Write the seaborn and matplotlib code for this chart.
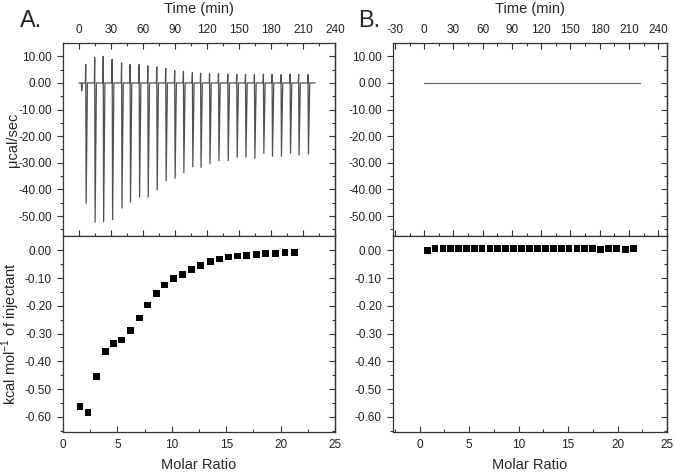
import numpy as np
import pandas as pd
import matplotlib.pyplot as plt
import seaborn as sns
from matplotlib.ticker import MultipleLocator, FormatStrFormatter

# panel A raw thermogram: injection times (min) and peak heights (ucal/sec)
inj_time = [6.3, 14.7, 22.7, 31.1, 39.9, 47.9, 56.4, 64.5, 72.9, 81.3, 89.7, 97.9, 106.3,
            114.0, 122.4, 130.8, 139.5, 147.9, 156.1, 164.5, 172.9, 181.0, 189.4, 197.9, 205.9, 214.7]
inj_up = [7.0, 9.5, 10.0, 8.9, 7.5, 6.9, 6.9, 6.4, 6.0, 5.4, 4.6, 4.4, 3.9,
          3.7, 3.5, 3.5, 3.3, 3.2, 3.2, 3.1, 3.3, 3.2, 3.1, 3.3, 3.2, 3.1]
inj_down = [-45.2, -52.3, -52.2, -51.4, -47.0, -44.9, -42.9, -42.9, -40.2, -36.8, -35.8, -33.7, -31.5,
            -31.7, -30.4, -29.2, -29.2, -27.9, -27.9, -28.2, -26.4, -27.5, -27.5, -26.4, -27.1, -26.7]
pre_time, pre_dip = 2.5, -3.0
run_start, run_end = 0.0, 221.5

# panel A integrated heats
a_ratio = [1.56, 2.30, 3.07, 3.87, 4.63, 5.40, 6.20, 7.00, 7.79, 8.56, 9.36, 10.15, 10.98,
           11.81, 12.67, 13.53, 14.36, 15.21, 16.04, 16.90, 17.79, 18.62, 19.51, 20.40, 21.26]
a_heat = [-0.562, -0.586, -0.454, -0.366, -0.336, -0.323, -0.288, -0.244, -0.197, -0.156,
          -0.125, -0.102, -0.086, -0.070, -0.053, -0.041, -0.031, -0.024, -0.020, -0.017,
          -0.014, -0.012, -0.012, -0.008, -0.008]

# panel B: flat thermogram and near-zero heats
b_time = [0.0, 221.5]
b_power = [0.0, 0.0]
b_ratio = [0.78, 1.55, 2.35, 3.10, 3.90, 4.70, 5.50, 6.30, 7.10, 7.90, 8.70, 9.50, 10.30, 11.10,
           11.90, 12.70, 13.50, 14.30, 15.10, 15.90, 16.70, 17.50, 18.30, 19.10, 19.90, 20.80, 21.60]
b_heat = [0.000, 0.006, 0.006, 0.006, 0.006, 0.006, 0.006, 0.006, 0.006, 0.006, 0.006, 0.006, 0.006,
          0.006, 0.006, 0.006, 0.006, 0.006, 0.006, 0.006, 0.006, 0.006, 0.003, 0.006, 0.006, 0.003, 0.006]

sns.set_style("ticks")
plt.rcParams['font.family'] = ['Liberation Sans', 'DejaVu Sans']
plt.rcParams['mathtext.fontset'] = 'custom'
plt.rcParams['mathtext.rm'] = 'Liberation Sans'
plt.rcParams['axes.unicode_minus'] = False

# build the trace path from the peaks
tt, pp = [run_start, pre_time - 0.3, pre_time, pre_time + 0.6], [0, 0, pre_dip, 0]
for t, u, d in zip(inj_time, inj_up, inj_down):
    tt += [t - 0.3, t, t + 0.4, t + 1.6]
    pp += [0, u, d, 0]
tt.append(run_end)
pp.append(0)
trace_a = pd.DataFrame({"time": tt, "power": pp})
trace_b = pd.DataFrame({"time": b_time, "power": b_power})
heat_a = pd.DataFrame({"ratio": a_ratio, "heat": a_heat})
heat_b = pd.DataFrame({"ratio": b_ratio, "heat": b_heat})

fig = plt.figure(figsize=(6.75, 4.74), dpi=100)
W, H = 675, 474


def box(x0, x1, y0, y1):
    return [x0 / W, 1 - y1 / H, (x1 - x0) / W, (y1 - y0) / H]


axA1 = fig.add_axes(box(63, 335, 43, 236))
axA2 = fig.add_axes(box(63, 335, 236, 432))
axB1 = fig.add_axes(box(393, 667, 43, 236))
axB2 = fig.add_axes(box(393, 667, 236, 432))

sns.lineplot(data=trace_a, x="time", y="power", ax=axA1, sort=False, estimator=None,
             color="#505050", lw=0.9)
sns.lineplot(data=trace_b, x="time", y="power", ax=axB1, sort=False, estimator=None,
             color="#606060", lw=0.8)
sns.scatterplot(data=heat_a, x="ratio", y="heat", ax=axA2, marker="s", s=24,
                color="black", edgecolor="none")
sns.scatterplot(data=heat_b, x="ratio", y="heat", ax=axB2, marker="s", s=24,
                color="black", edgecolor="none")

axA1.set_xlim(-15, 240)
axB1.set_xlim(-32, 249)
axA2.set_xlim(0, 25)
axB2.set_xlim(-2.7, 25)

for ax in (axA1, axB1):
    ax.set_ylim(-57.5, 15)
    ax.xaxis.set_major_locator(MultipleLocator(30))
    ax.xaxis.set_minor_locator(MultipleLocator(15))
    ax.yaxis.set_major_formatter(FormatStrFormatter('%.2f'))
    ax.xaxis.set_label_position('top')
    ax.set_xlabel("Time (min)", fontsize=10.5, labelpad=8)
    ax.tick_params(axis='x', which='both', direction='in', top=True, bottom=True,
                   labeltop=True, labelbottom=False)
    ax.tick_params(axis='x', which='major', pad=5)
    ax.set_yticks([10, 0, -10, -20, -30, -40, -50])
    ax.set_yticks(np.arange(-55, 15, 5), minor=True)

for ax in (axA2, axB2):
    ax.set_ylim(-0.655, 0.052)
    ax.xaxis.set_major_locator(MultipleLocator(5))
    ax.xaxis.set_minor_locator(MultipleLocator(2.5))
    ax.set_yticks([0, -0.1, -0.2, -0.3, -0.4, -0.5, -0.6])
    ax.set_yticks(np.arange(-0.65, 0.05, 0.05), minor=True)
    ax.yaxis.set_major_formatter(FormatStrFormatter('%.2f'))
    ax.set_xlabel("Molar Ratio", fontsize=10.5, labelpad=5)
    ax.tick_params(axis='x', which='both', direction='in', top=False, bottom=True)
    ax.tick_params(axis='x', which='major', pad=5)

for ax in (axA1, axA2, axB1, axB2):
    ax.set_ylabel("")
    ax.tick_params(axis='y', which='both', direction='out', left=True, right=False)
    ax.tick_params(which='major', length=4, width=0.8, labelsize=8.5, colors="#333333",
                   labelcolor="#222222")
    ax.tick_params(axis='y', which='major', pad=4)
    ax.tick_params(which='minor', length=2, width=0.8, colors="#333333")
    for s in ax.spines.values():
        s.set_visible(True)
        s.set_color("#333333")
        s.set_linewidth(0.9)
    sec = ax.secondary_yaxis('right')
    sec.set_yticks(ax.get_yticks())
    sec.set_yticks(ax.get_yticks(minor=True), minor=True)
    sec.tick_params(axis='y', which='both', direction='in', labelright=False, colors="#333333")
    sec.tick_params(which='major', length=4, width=0.8)
    sec.tick_params(which='minor', length=2, width=0.8)
    sec.spines['right'].set_color("#333333")
    sec.spines['right'].set_linewidth(0.9)

axA1.set_ylabel("μcal/sec", fontsize=10.5)
axA1.yaxis.set_label_coords(-0.158, 0.5)
axA2.set_ylabel("kcal mol$^{-1}$ of injectant", fontsize=10.5)
axA2.yaxis.set_label_coords(-0.15, 0.5)

fig.text(20 / W, 1 - 21 / H, "A.", fontsize=17, va="center", ha="left")
fig.text(358 / W, 1 - 21 / H, "B.", fontsize=17, va="center", ha="left")

fig.savefig("out.png", dpi=100)
